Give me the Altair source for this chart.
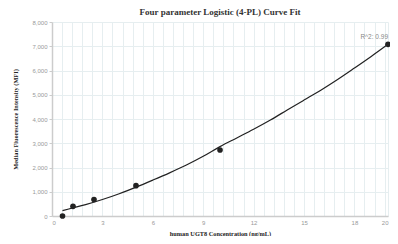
import altair as alt
import pandas as pd

# measured points
conc = [0.625, 1.25, 2.5, 5, 10, 20]
mfi = [0, 400, 680, 1250, 2720, 7080]

# fitted curve
curve_x = [0.625, 1, 2, 3, 4, 5, 6, 7, 8, 9, 10, 11, 12, 13, 14, 15, 16, 17, 18, 19, 20]
curve_y = [220, 290, 470, 680, 920, 1190, 1480, 1780, 2100, 2460, 2860, 3220, 3580, 3960, 4370, 4780, 5190, 5630, 6100, 6580, 7080]

r2_label = ["R^2: 0.99"]

x_grid = [round(i * 0.6, 1) for i in range(34)] + [20]
y_ticks = [0, 1000, 2000, 3000, 4000, 5000, 6000, 7000, 8000]

pts = pd.DataFrame({"x": conc, "y": mfi})
crv = pd.DataFrame({"x": curve_x, "y": curve_y})
lab = pd.DataFrame({"x": [conc[-1]], "y": [mfi[-1]], "t": r2_label})

serif = "Liberation Serif"
sans = "Liberation Sans"

xs = alt.Scale(domain=[0, 20], nice=False, zero=True)
ys = alt.Scale(domain=[0, 8000], nice=False)

xaxis = alt.Axis(
    values=x_grid,
    labelExpr="(abs(datum.value % 3) < 0.001 || datum.value == 20) ? format(datum.value, 'd') : ''",
    labelOverlap=False,
    ticks=False,
    grid=True,
    title="human UGT8 Concentration (ng/mL)",
)
yaxis = alt.Axis(values=y_ticks, labelExpr="format(datum.value, ',')", grid=True,
                 title="Median Fluorescence Intensity (MFI)",
                 titleX=-34, titleY=97, titleAngle=-90, tickSize=3, labelOverlap=False)

X = alt.X("x:Q", scale=xs, axis=xaxis)
Y = alt.Y("y:Q", scale=ys, axis=yaxis)

line = alt.Chart(crv).mark_line(color="#222222", strokeWidth=1.2, interpolate="monotone").encode(x=X, y=Y)
points = alt.Chart(pts).mark_circle(color="#222222", opacity=1, size=32).encode(x=X, y=Y)
text = alt.Chart(lab).mark_text(align="right", baseline="middle", dx=0, dy=-7, fontSize=6.5,
                                font=sans, color="#888888").encode(x=X, y=Y, text="t:N")

chart = (line + points + text).properties(
    width=336,
    height=194,
    autosize=alt.AutoSizeParams(type="none"),
    padding={"left": 44, "top": 14, "right": 2, "bottom": 20},
    title=alt.TitleParams("Four parameter Logistic (4-PL) Curve Fit", font=serif, fontSize=9,
                          fontWeight="bold", color="#333333", anchor="middle", offset=2),
).configure_view(stroke=None).configure_axis(
    labelFont=sans, labelFontSize=6, labelColor="#999999",
    titleFont=serif, titleFontSize=6.3, titleFontWeight="bold", titleColor="#222222",
    gridColor="#e6eef0", gridWidth=1,
    domainColor="#cccccc", domainWidth=1.5, tickColor="#cccccc",
).configure_axisX(labelPadding=3, titlePadding=5).configure_axisY(labelPadding=2)

chart.save("out.html", embed_options={"renderer": "svg", "actions": False})
